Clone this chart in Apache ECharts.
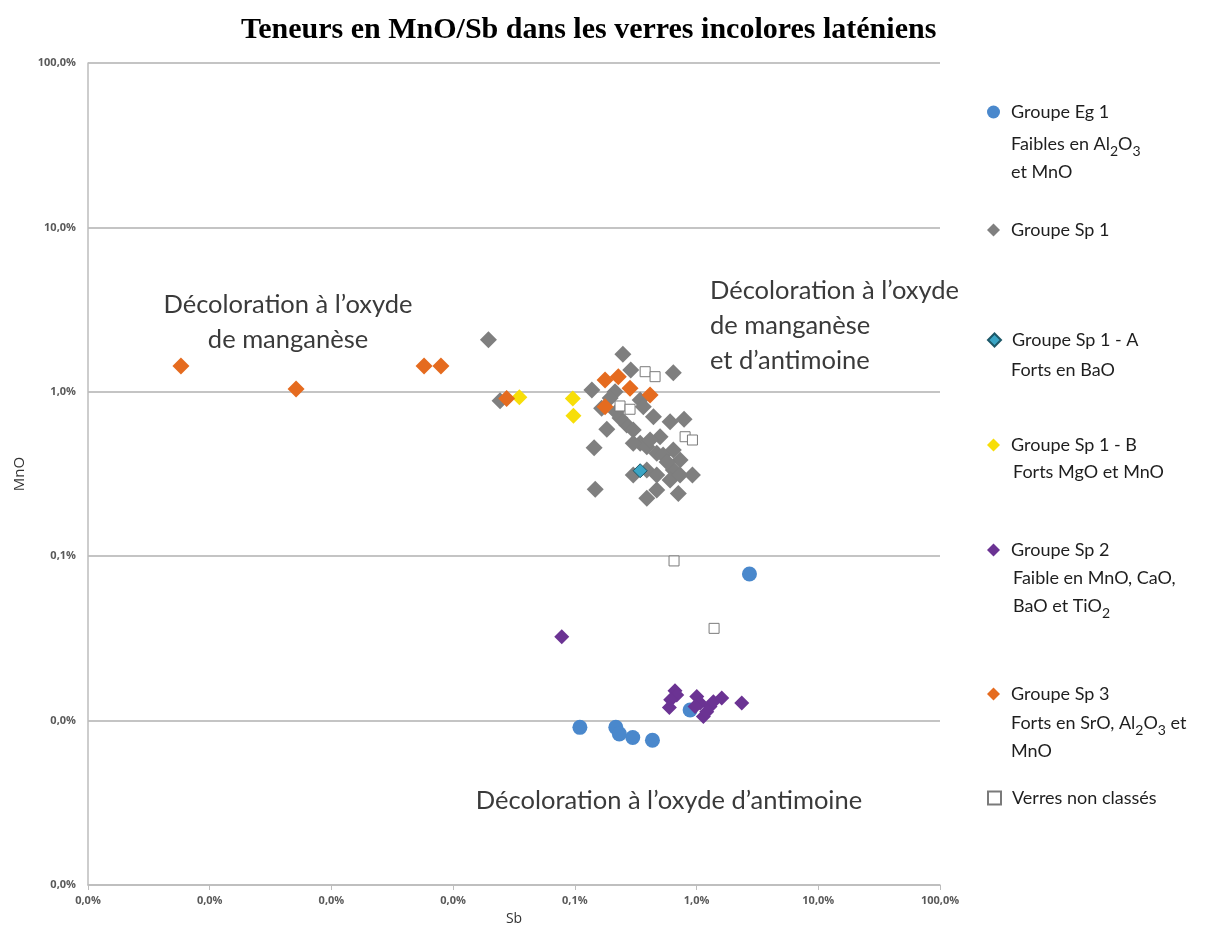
<!DOCTYPE html>
<html>
<head>
<meta charset="utf-8">
<title>Teneurs en MnO/Sb</title>
<script src="https://cdn.jsdelivr.net/npm/echarts@6/dist/echarts.min.js"></script>
<style>
  html, body { margin: 0; padding: 0; background: #ffffff; }
  #chart { width: 1216px; height: 930px; }
</style>
</head>
<body>
<div id="chart"></div>
<script>
// Values are percentages: [Sb %, MnO %]
const groupeEg1 = [
  [0.110, 0.0091], [0.217, 0.0091], [0.232, 0.0083], [0.299, 0.0079],
  [0.434, 0.0076], [0.885, 0.0116], [2.72, 0.078]
];
const groupeSp1 = [
  [0.0195, 2.07], [0.0243, 0.883], [0.248, 1.69], [0.288, 1.358], [0.644, 1.306],
  [0.138, 1.026], [0.214, 1.002], [0.166, 0.794], [0.183, 0.591], [0.144, 0.457],
  [0.147, 0.255], [0.344, 0.892], [0.365, 0.812], [0.442, 0.706], [0.267, 0.628],
  [0.302, 0.586], [0.344, 0.486], [0.390, 0.463], [0.501, 0.533], [0.606, 0.658],
  [0.789, 0.680], [0.471, 0.423], [0.644, 0.442], [0.732, 0.385], [0.302, 0.312],
  [0.390, 0.334], [0.471, 0.312], [0.644, 0.334], [0.606, 0.291], [0.732, 0.312],
  [0.925, 0.312], [0.471, 0.253], [0.390, 0.225], [0.708, 0.241], [0.415, 0.509],
  [0.531, 0.413], [0.235, 0.693], [0.195, 0.917], [0.572, 0.374], [0.218, 0.754],
  [0.302, 0.486]
];
const groupeSp1A = [[0.344, 0.331]];
const groupeSp1B = [[0.035, 0.926], [0.0962, 0.912], [0.0973, 0.716]];
const groupeSp2 = [
  [0.078, 0.0324], [0.665, 0.0152], [0.687, 0.0143], [0.613, 0.0134], [0.598, 0.0120],
  [1.004, 0.0140], [1.069, 0.0128], [1.137, 0.0106], [0.972, 0.0122], [1.29, 0.0122],
  [1.374, 0.0130], [1.61, 0.0137], [2.35, 0.0128], [1.213, 0.0113]
];
const groupeSp3 = [
  [0.000058, 1.435], [0.000512, 1.04], [0.00577, 1.435], [0.00794, 1.435], [0.0275, 0.912],
  [0.177, 1.18], [0.2275, 1.236], [0.284, 1.05], [0.415, 0.957], [0.177, 0.812]
];
const nonClasses = [
  [0.378, 1.325], [0.456, 1.236], [0.235, 0.82], [0.284, 0.783],
  [0.805, 0.533], [0.925, 0.509], [0.653, 0.0936], [1.393, 0.0364]
];

const seriesNames = ['Groupe Eg 1', 'Groupe Sp 1', 'Groupe Sp 1 - A', 'Groupe Sp 1 - B',
  'Groupe Sp 2', 'Groupe Sp 3', 'Verres non classés'];
const legendRows = [112, 230, 340, 445, 550, 694, 798];

const fmtPct = v => Number(v).toFixed(1).replace('.', ',') + '%';

const chart = echarts.init(document.getElementById('chart'), null, { renderer: 'canvas' });

const legendFont = { fontFamily: 'Lato', fontSize: 18, color: '#1e1e1e', lineHeight: 24 };
const legends = seriesNames.map((n, i) => ({
  data: [n],
  left: 987,
  top: legendRows[i] - 12,
  padding: 0,
  itemWidth: 13,
  itemHeight: 13,
  selectedMode: false,
  textStyle: Object.assign({ padding: [0, 0, 0, 6] }, legendFont)
}));

const subRich = {
  s: { fontFamily: 'Lato', fontSize: 14, lineHeight: 18, verticalAlign: 'bottom', fill: '#1e1e1e' }
};
function legendNote(x, y, text) {
  return {
    type: 'text', x: x, y: y, silent: true,
    style: {
      text: text, fontFamily: 'Lato', fontSize: 18, lineHeight: 28, fill: '#1e1e1e',
      align: 'left', verticalAlign: 'middle', rich: subRich
    }
  };
}
function note(x, y, text, align) {
  return {
    type: 'text', x: x, y: y, silent: true,
    style: {
      text: text, fontFamily: 'Lato', fontSize: 25.5, lineHeight: 35, fill: '#3a3a3a',
      align: align, verticalAlign: 'middle'
    }
  };
}

const option = {
  animation: false,
  backgroundColor: '#ffffff',
  title: {
    text: 'Teneurs en MnO/Sb dans les verres incolores laténiens',
    left: 236, top: 10,
    textStyle: { fontFamily: 'Liberation Serif', fontWeight: 'bold', fontSize: 30, color: '#000' }
  },
  legend: legends,
  grid: { left: 88, right: 276, top: 63, bottom: 45, containLabel: false, outerBoundsMode: 'none' },
  xAxis: {
    type: 'log', logBase: 10, min: 0.00001, max: 100, splitNumber: 7,
    name: 'Sb', nameLocation: 'middle', nameGap: 27,
    nameTextStyle: { fontFamily: 'Open Sans', fontSize: 14, color: '#333' },
    axisLine: { lineStyle: { color: '#bdbdbd', width: 1.5 } },
    axisTick: { show: true, length: 5, lineStyle: { color: '#bdbdbd' } },
    splitLine: { show: false },
    minorTick: { show: false },
    axisLabel: { formatter: fmtPct, margin: 10, fontFamily: 'Open Sans', fontSize: 11, fontWeight: 'bold', color: '#595959' }
  },
  yAxis: {
    type: 'log', logBase: 10, min: 0.001, max: 100, splitNumber: 5,
    name: 'MnO', nameLocation: 'middle', nameGap: 58, nameRotate: 90,
    nameTextStyle: { fontFamily: 'Open Sans', fontSize: 15, color: '#333' },
    axisLine: { show: true, lineStyle: { color: '#bdbdbd', width: 1.5 } },
    axisTick: { show: false },
    splitLine: { show: true, lineStyle: { color: '#c4c4c4', width: 2 } },
    axisLabel: { formatter: fmtPct, margin: 12, fontFamily: 'Open Sans', fontSize: 11, fontWeight: 'bold', color: '#595959' }
  },
  series: [
    { name: seriesNames[0], type: 'scatter', symbol: 'circle', symbolSize: 15, data: groupeEg1,
      itemStyle: { color: '#4a88cc', opacity: 1 } },
    { name: seriesNames[1], type: 'scatter', symbol: 'diamond', symbolSize: 17, data: groupeSp1,
      itemStyle: { color: '#7f7f7f', opacity: 1 } },
    { name: seriesNames[2], type: 'scatter', symbol: 'diamond', symbolSize: 14, data: groupeSp1A,
      itemStyle: { color: '#3aa5c5', borderColor: '#1d5868', borderWidth: 1, opacity: 1 } },
    { name: seriesNames[3], type: 'scatter', symbol: 'diamond', symbolSize: 16, data: groupeSp1B,
      itemStyle: { color: '#f7de08', opacity: 1 } },
    { name: seriesNames[4], type: 'scatter', symbol: 'diamond', symbolSize: 15, data: groupeSp2,
      itemStyle: { color: '#6b3393', opacity: 1 } },
    { name: seriesNames[5], type: 'scatter', symbol: 'diamond', symbolSize: 17, data: groupeSp3,
      itemStyle: { color: '#e56b1f', opacity: 1 } },
    { name: seriesNames[6], type: 'scatter', symbol: 'rect', symbolSize: 10, data: nonClasses,
      itemStyle: { color: '#ffffff', borderColor: '#7a7a7a', borderWidth: 1, opacity: 1 } }
  ],
  graphic: [
    note(288, 322, 'Décoloration à l’oxyde\nde manganèse', 'center'),
    note(710, 326, 'Décoloration à l’oxyde\nde manganèse\net d’antimoine', 'left'),
    note(669, 801, 'Décoloration à l’oxyde d’antimoine', 'center'),
    legendNote(1011, 158, 'Faibles en Al{s|2}O{s|3}\net MnO'),
    legendNote(1011, 370, 'Forts en BaO'),
    legendNote(1013, 472, 'Forts MgO et MnO'),
    legendNote(1013, 592, 'Faible en MnO, CaO,\nBaO et TiO{s|2}'),
    legendNote(1011, 737, 'Forts en SrO, Al{s|2}O{s|3} et\nMnO')
  ]
};

chart.setOption(option);
</script>
</body>
</html>
